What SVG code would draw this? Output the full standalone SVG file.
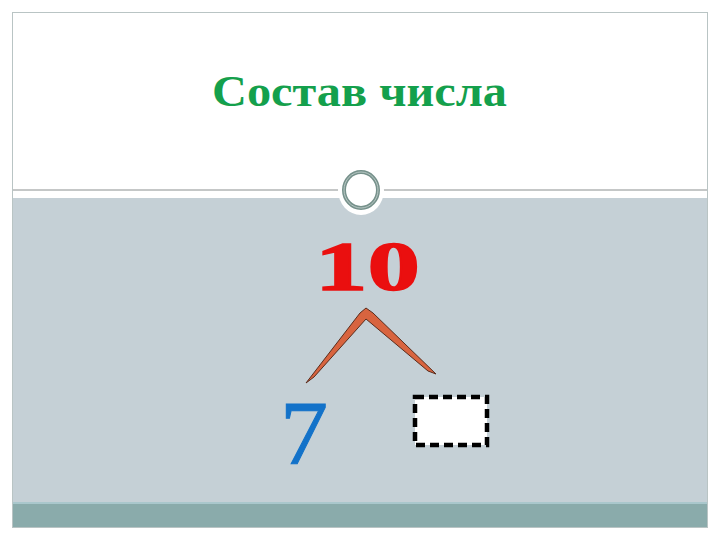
<svg xmlns="http://www.w3.org/2000/svg" width="720" height="540" viewBox="0 0 720 540">
<style>
.title{font-family:"Liberation Serif","DejaVu Serif",serif;font-weight:bold;font-size:44px;fill:#14a04c}
.num{font-family:"Liberation Serif","DejaVu Serif",serif}
</style>
<rect x="0" y="0" width="720" height="540" fill="#ffffff"/>
<g id="frame">
<rect x="12.5" y="12.5" width="695" height="515" fill="#ffffff" stroke="#b9c4c4" stroke-width="1"/>
<rect x="13" y="198" width="694" height="305" fill="#c5d0d6"/>
<rect x="13" y="502" width="694" height="25" fill="#8aabab"/>
<line x1="13" y1="503" x2="707" y2="503" stroke="#a9c7cc" stroke-width="2"/>
<line x1="13" y1="190" x2="707" y2="190" stroke="#8a8f8f" stroke-width="1"/>
<ellipse cx="361" cy="190" rx="23" ry="25" fill="#ffffff"/>
<ellipse cx="361" cy="190" rx="17" ry="18" fill="none" stroke="#76918b" stroke-width="4"/>
<ellipse cx="361" cy="190" rx="17" ry="18" fill="none" stroke="#c9d6d3" stroke-width="0.8"/>
</g>
<g id="title"><text class="title" x="212" y="106" textLength="295" lengthAdjust="spacingAndGlyphs">Состав числа</text></g>
<g id="n10"><text class="num" x="315" y="290" font-size="70" font-weight="bold" fill="#ea0f0f" stroke="#ea0f0f" stroke-width="1.5" textLength="105" lengthAdjust="spacingAndGlyphs">10</text></g>
<g id="n7"><text class="num" x="280" y="464" font-size="90" fill="#1372c9" stroke="#1372c9" stroke-width="1" textLength="48" lengthAdjust="spacingAndGlyphs">7</text></g>
<g id="box"><rect x="415" y="397" width="72" height="48" fill="#ffffff" stroke="#000000" stroke-width="4.5" stroke-dasharray="9,5"/></g>
<g id="connectors">
<path d="M306,383 L360,313 L366,308 L373,313 L436,374 L428,371 L366,319 L314,377 Z" fill="#d8643f" stroke="#5a2c1c" stroke-width="1"/>
</g>
</svg>
